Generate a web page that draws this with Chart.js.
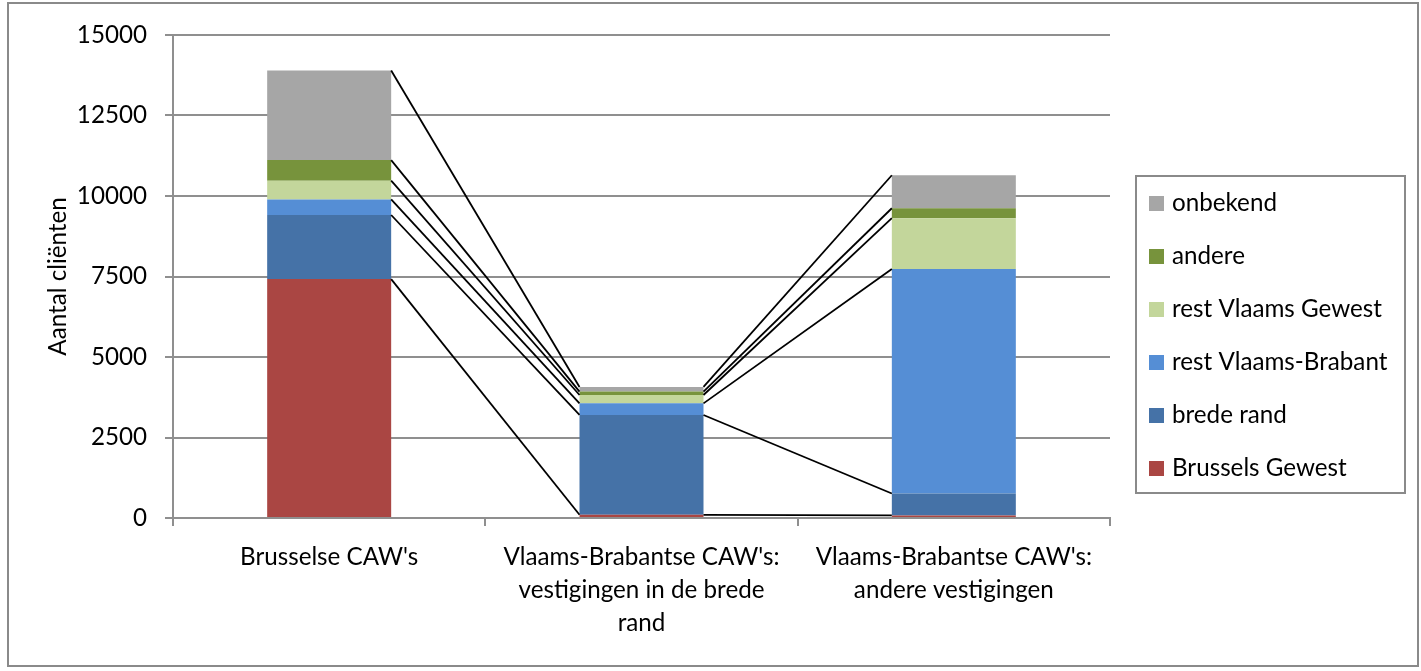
<!DOCTYPE html>
<html>
<head>
<meta charset="utf-8">
<script src="https://cdn.jsdelivr.net/npm/chart.js@4/dist/chart.umd.min.js"></script>
<style>
  html, body { margin: 0; padding: 0; background: #ffffff; }
  #wrap { position: absolute; left: 0; top: 0; width: 1421px; height: 671px; }
</style>
</head>
<body>
<div id="wrap"><canvas id="c" width="1421" height="671"></canvas></div>
<script>
const categories = [
  "Brusselse CAW's",
  ["Vlaams-Brabantse CAW's:", "vestigingen in de brede", "rand"],
  ["Vlaams-Brabantse CAW's:", "andere vestigingen"]
];
const brusselsGewest    = [7420, 100, 80];
const bredeRand         = [1990, 3100, 680];
const restVlaamsBrabant = [485, 360, 6970];
const restVlaamsGewest  = [580, 260, 1580];
const andere            = [640, 105, 310];
const onbekend          = [2780, 145, 1025];
const yTicks = [0, 2500, 5000, 7500, 10000, 12500, 15000];

const seriesNames  = ["Brussels Gewest", "brede rand", "rest Vlaams-Brabant", "rest Vlaams Gewest", "andere", "onbekend"];
const seriesValues = [brusselsGewest, bredeRand, restVlaamsBrabant, restVlaamsGewest, andere, onbekend];
const seriesColors = ["#AA4643", "#4572A7", "#558ED5", "#C3D69B", "#77933C", "#A6A6A6"];

const FONT = "Lato";
// size the font so that the first category label has the reference width
const mctx = document.createElement('canvas').getContext('2d');
mctx.font = "100px " + FONT;
const fs = Math.round(100 * 178 / mctx.measureText("Brusselse CAW's").width * 10) / 10;

Chart.defaults.font.family = FONT;
Chart.defaults.font.size = fs;
Chart.defaults.color = "#000";

const GRID = "#8f8f8f";

const seriesLines = {
  id: 'seriesLines',
  afterDatasetsDraw(chart) {
    const ctx = chart.ctx;
    ctx.save();
    ctx.strokeStyle = "#000";
    ctx.lineWidth = 1.8;
    chart.data.datasets.forEach((ds, i) => {
      const meta = chart.getDatasetMeta(i);
      for (let j = 0; j < meta.data.length - 1; j++) {
        const a = meta.data[j], b = meta.data[j + 1];
        ctx.beginPath();
        ctx.moveTo(a.x + a.width / 2, a.y);
        ctx.lineTo(b.x - b.width / 2, b.y);
        ctx.stroke();
      }
    });
    ctx.restore();
  }
};

const frameAndLegend = {
  id: 'frameAndLegend',
  beforeDraw(chart) {
    const ctx = chart.ctx;
    ctx.save();
    ctx.fillStyle = "#fff";
    ctx.fillRect(0, 0, chart.width, chart.height);
    ctx.strokeStyle = "#8a8a8a";
    ctx.lineWidth = 2;
    ctx.strokeRect(8, 3, 1410, 663);
    ctx.restore();
  },
  afterDraw(chart) {
    const ctx = chart.ctx;
    const ca = chart.chartArea;
    const bx = ca.right + 26, by = 176, bw = 269, bh = 317;
    ctx.save();
    ctx.strokeStyle = "#8a8a8a";
    ctx.lineWidth = 2;
    ctx.strokeRect(bx, by, bw, bh);
    ctx.font = fs + "px " + FONT;
    ctx.textBaseline = "middle";
    ctx.textAlign = "left";
    const n = chart.data.datasets.length;
    for (let k = 0; k < n; k++) {
      const ds = chart.data.datasets[n - 1 - k];
      const cy = by + 27 + k * 53;
      ctx.fillStyle = ds.backgroundColor;
      ctx.fillRect(bx + 13, cy - 7, 15, 15);
      ctx.fillStyle = "#000";
      ctx.fillText(ds.label, bx + 36, cy);
    }
    ctx.restore();
  }
};

new Chart(document.getElementById('c'), {
  type: 'bar',
  data: {
    labels: categories,
    datasets: seriesNames.map((name, i) => ({
      label: name,
      data: seriesValues[i],
      backgroundColor: seriesColors[i],
      borderWidth: 0,
      barPercentage: 0.397,
      categoryPercentage: 1.0
    }))
  },
  options: {
    responsive: false,
    animation: false,
    layout: { padding: { left: 0, top: 35, right: 311, bottom: 10 } },
    plugins: {
      legend: { display: false },
      tooltip: { enabled: false }
    },
    scales: {
      x: {
        stacked: true,
        grid: { display: true, drawOnChartArea: false, drawTicks: true, tickLength: 8, color: GRID, lineWidth: 2, offset: true },
        border: { display: true, color: GRID, width: 2 },
        ticks: { maxRotation: 0, minRotation: 0, autoSkip: false, padding: 15, font: { size: fs, lineHeight: 33 / fs } },
        afterFit(scale) { scale.height = 143; }
      },
      y: {
        stacked: true,
        min: 0,
        max: 15000,
        afterBuildTicks(scale) { scale.ticks = yTicks.map(v => ({ value: v })); },
        grid: { color: GRID, lineWidth: 2, drawTicks: true, tickLength: 8 },
        border: { display: true, color: GRID, width: 2 },
        ticks: { padding: 18, callback: v => String(v) },
        title: { display: true, text: "Aantal cliënten", padding: { top: 44, bottom: 0 } },
        afterFit(scale) { scale.width = 173; }
      }
    }
  },
  plugins: [seriesLines, frameAndLegend]
});
</script>
</body>
</html>
